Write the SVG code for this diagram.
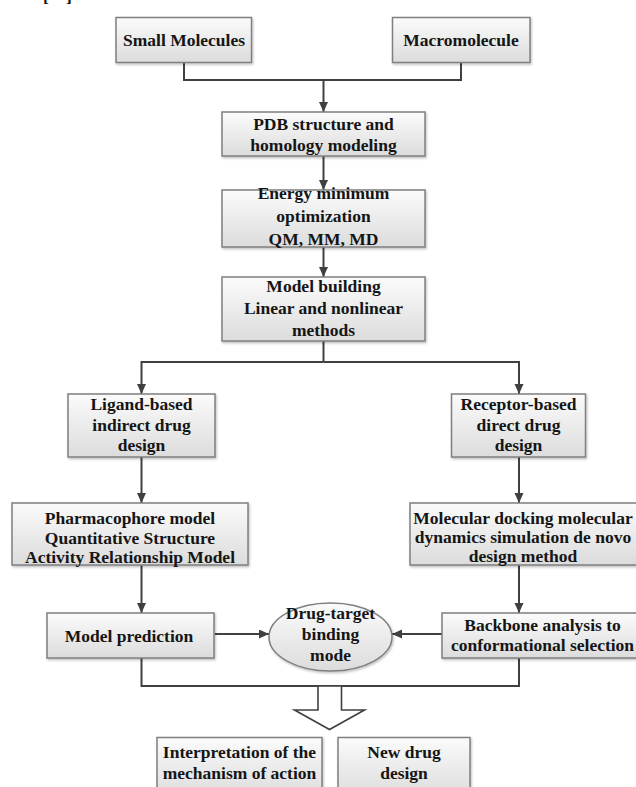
<svg xmlns="http://www.w3.org/2000/svg" width="636" height="787" viewBox="0 0 636 787">
<style>
.box{fill:url(#g);stroke:#7f7f7f;stroke-width:1.5;filter:url(#sh)}
.t{font-family:"Liberation Serif","Times New Roman",serif;font-weight:bold;font-size:17.5px;fill:#151515;text-anchor:middle}
.c{fill:none;stroke:#404040;stroke-width:2}
.a{marker-end:url(#ah)}
</style>
<defs>
<linearGradient id="g" x1="0" y1="0" x2="0" y2="1">
<stop offset="0" stop-color="#fbfbfb"/>
<stop offset="1" stop-color="#dcdcdc"/>
</linearGradient>
<filter id="sh" x="-10%" y="-10%" width="120%" height="130%">
<feDropShadow dx="1" dy="1.5" stdDeviation="1" flood-color="#000" flood-opacity="0.25"/>
</filter>
<marker id="ah" markerUnits="userSpaceOnUse" markerWidth="11" markerHeight="10" refX="10" refY="4.5" orient="auto">
<path d="M0,0 L10,4.5 L0,9 z" fill="#404040"/>
</marker>
</defs>
<rect width="636" height="787" fill="#fff"/>
<g id="caption-fragment">
<text class="t" style="text-anchor:start" x="43" y="1.5">[</text>
<text class="t" style="text-anchor:start" x="66" y="1.5">]</text>
</g>
<g id="connectors">
<polyline class="c" points="184,62 184,80 461,80 461,62"/>
<line class="c a" x1="323.5" y1="80" x2="323.5" y2="112"/>
<line class="c a" x1="323.5" y1="156" x2="323.5" y2="190"/>
<line class="c a" x1="323.5" y1="247" x2="323.5" y2="277"/>
<line class="c" x1="323.5" y1="341" x2="323.5" y2="362"/>
<polyline class="c a" points="323.5,362 141.5,362 141.5,394"/>
<polyline class="c a" points="323.5,362 519,362 519,394"/>
<line class="c a" x1="141.5" y1="457" x2="141.5" y2="503"/>
<line class="c a" x1="519" y1="457" x2="519" y2="503"/>
<line class="c a" x1="141.5" y1="565" x2="141.5" y2="613"/>
<line class="c a" x1="519" y1="565" x2="519" y2="613"/>
<line class="c a" x1="215" y1="634" x2="269" y2="634"/>
<line class="c a" x1="442" y1="634" x2="392" y2="634"/>
<polyline class="c" points="141.5,658 141.5,686 519,686 519,658"/>
<polygon points="318,686 341.5,686 341.5,710 364.5,710 329.5,729.5 294.5,710 318,710" fill="#fff" stroke="#404040" stroke-width="1.6" stroke-linejoin="miter"/>
</g>
<g id="small-molecules">
<rect class="box" x="116" y="17.5" width="135.5" height="45"/>
<text class="t" x="184" y="45.5">Small Molecules</text>
</g>
<g id="macromolecule">
<rect class="box" x="392.5" y="17.5" width="137.5" height="45"/>
<text class="t" x="461" y="45.5">Macromolecule</text>
</g>
<g id="pdb">
<rect class="box" x="222" y="112" width="203" height="44"/>
<text class="t" x="323.5" y="129.5">PDB structure and</text>
<text class="t" x="323.5" y="150.5">homology modeling</text>
</g>
<g id="energy">
<rect class="box" x="222" y="190" width="203" height="57"/>
<text class="t" x="323.5" y="199">Energy minimum</text>
<text class="t" x="323.5" y="222">optimization</text>
<text class="t" x="323.5" y="245">QM, MM, MD</text>
</g>
<g id="model-building">
<rect class="box" x="222" y="277" width="203" height="64"/>
<text class="t" x="323.5" y="292">Model building</text>
<text class="t" x="323.5" y="314">Linear and nonlinear</text>
<text class="t" x="323.5" y="335.5">methods</text>
</g>
<g id="ligand">
<rect class="box" x="68" y="394" width="147" height="63"/>
<text class="t" x="141.5" y="410">Ligand-based</text>
<text class="t" x="141.5" y="430.5">indirect drug</text>
<text class="t" x="141.5" y="451">design</text>
</g>
<g id="receptor">
<rect class="box" x="451.5" y="394" width="134" height="63"/>
<text class="t" x="518.5" y="410">Receptor-based</text>
<text class="t" x="518.5" y="430.5">direct drug</text>
<text class="t" x="518.5" y="451">design</text>
</g>
<g id="pharmacophore">
<rect class="box" x="12" y="503" width="236" height="62"/>
<text class="t" x="130" y="524">Pharmacophore model</text>
<text class="t" x="130" y="544">Quantitative Structure</text>
<text class="t" x="130" y="563">Activity Relationship Model</text>
</g>
<g id="docking">
<rect class="box" x="410" y="503" width="240" height="62"/>
<text class="t" x="523" y="523.5">Molecular docking molecular</text>
<text class="t" x="523" y="543">dynamics simulation de novo</text>
<text class="t" x="523" y="562">design method</text>
</g>
<g id="model-prediction">
<rect class="box" x="47" y="613" width="167" height="45"/>
<text class="t" x="129" y="641.5">Model prediction</text>
</g>
<g id="binding-mode">
<ellipse class="box" cx="330.5" cy="637" rx="61.5" ry="34"/>
<text class="t" x="330.5" y="618.5">Drug-target</text>
<text class="t" x="330.5" y="639.5">binding</text>
<text class="t" x="330.5" y="660.5">mode</text>
</g>
<g id="backbone">
<rect class="box" x="442" y="613" width="210" height="45"/>
<text class="t" x="542.5" y="630.5">Backbone analysis to</text>
<text class="t" x="542.5" y="651">conformational selection</text>
</g>
<g id="interpretation">
<rect class="box" x="157" y="737.5" width="165" height="60"/>
<text class="t" x="239.5" y="758">Interpretation of the</text>
<text class="t" x="239.5" y="778.5">mechanism of action</text>
</g>
<g id="new-drug">
<rect class="box" x="338" y="737.5" width="132" height="60"/>
<text class="t" x="404" y="758">New drug</text>
<text class="t" x="404" y="778.5">design</text>
</g>
</svg>
